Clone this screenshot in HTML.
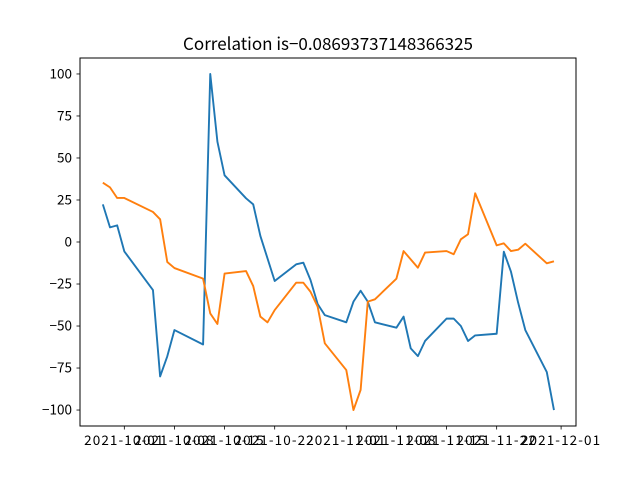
<!DOCTYPE html>
<html><head><meta charset="utf-8"><style>
body{margin:0;background:#fff}
svg{display:block;font-family:"Noto Sans CJK KR","DejaVu Sans","Liberation Sans",sans-serif}
</style></head><body>
<svg id="chart" width="640" height="480" viewBox="0 0 640 480" xmlns="http://www.w3.org/2000/svg">
<rect x="0" y="0" width="640" height="480" fill="#fff"/>
<text x="328" y="50" font-size="17" text-anchor="middle" fill="#000">Correlation is−0.08693737148366325</text>
<g id="plot"></g>
<rect x="80" y="58" width="496" height="368" fill="none" stroke="#000" stroke-width="1"/>
</svg>
<script>
const blueDays=[-3,-2,-1,0,4,5,6,7,11,12,13,14,17,18,19,21,24,25,26,27,28,31,32,33,34,35,38,39,40,41,42,45,46,47,48,49,52,53,54,55,56,59,60];
const blueVals=[22.4,8.7,9.9,-5.6,-28.6,-80,-68,-52.4,-61,100,59.7,39.7,26,22.4,3.6,-23.2,-13.3,-12.3,-22.6,-36.9,-43.5,-47.8,-35.5,-29,-35.5,-47.8,-51,-44.4,-63.3,-67.9,-58.9,-45.6,-45.6,-50,-58.9,-55.6,-54.6,-5.8,-17.7,-36.1,-52.4,-77.4,-100];
const orangeDays=[-3,-2,-1,0,4,5,6,7,11,12,13,14,17,18,19,20,21,24,25,26,27,28,31,32,33,34,35,38,39,41,42,45,46,47,48,49,52,53,54,55,56,59,60];
const orangeVals=[35.3,32.5,26.2,26.2,17.9,13.5,-11.9,-15.5,-21.8,-42.5,-48.8,-18.8,-17.3,-26.2,-44.4,-47.8,-40.5,-24.2,-24.2,-29.6,-38.5,-60.3,-76.2,-100,-88,-35.5,-34.1,-21.8,-5.4,-15.3,-6.3,-5.4,-7.3,1.6,4.6,29,-2,-0.8,-5.4,-4.6,-1,-12.7,-11.5];
const yTicks=[100,75,50,25,0,-25,-50,-75,-100];
const xTickDays=[0,7,14,21,31,38,45,52,61];
const xTickLabels=["2021-10-01","2021-10-08","2021-10-15","2021-10-22","2021-11-01","2021-11-08","2021-11-15","2021-11-22","2021-12-01"];

const NS="http://www.w3.org/2000/svg";
const g=document.getElementById('plot');
const X0=80,X1=576,Y0=58,Y1=426;
const dMin=-6.19,dMax=63.08,vMin=-109.5,vMax=109.5;
function xs(d){return X0+(d-dMin)/(dMax-dMin)*(X1-X0);}
function ys(v){return Y1-(v-vMin)/(vMax-vMin)*(Y1-Y0);}
function mk(t,a){const e=document.createElementNS(NS,t);for(const k in a)e.setAttribute(k,a[k]);g.appendChild(e);return e;}
yTicks.forEach(v=>{
  const y=ys(v);
  const l=mk('line',{x1:X0-3.5,x2:X0,y1:y,y2:y,stroke:'#000','stroke-width':0.8});
  
  
  const t=mk('text',{x:X0-8,y:y+4.5,'font-size':13.5,'text-anchor':'end',fill:'#000'});
  t.textContent=String(v).replace('-','−');
  
  
});
xTickDays.forEach((d,i)=>{
  const x=xs(d);
  const l=mk('line',{x1:x,x2:x,y1:Y1,y2:Y1+3.5,stroke:'#000','stroke-width':0.8});
  
  
  const t=mk('text',{x:x,y:Y1+19,'font-size':13.5,'text-anchor':'middle','letter-spacing':1.1,fill:'#000'});
  t.textContent=xTickLabels[i];
  
  
});
function line(days,vals,color,name){
  const p=days.map((d,i)=>xs(d).toFixed(2)+','+ys(vals[i]).toFixed(2)).join(' ');
  const e=mk('polyline',{points:p,fill:'none',stroke:color,'stroke-width':1.9,'stroke-linejoin':'round'});
  
  
}
line(blueDays,blueVals,'#1f77b4','series-blue-line');
line(orangeDays,orangeVals,'#ff7f0e','series-orange-line');
</script>
</body></html>
